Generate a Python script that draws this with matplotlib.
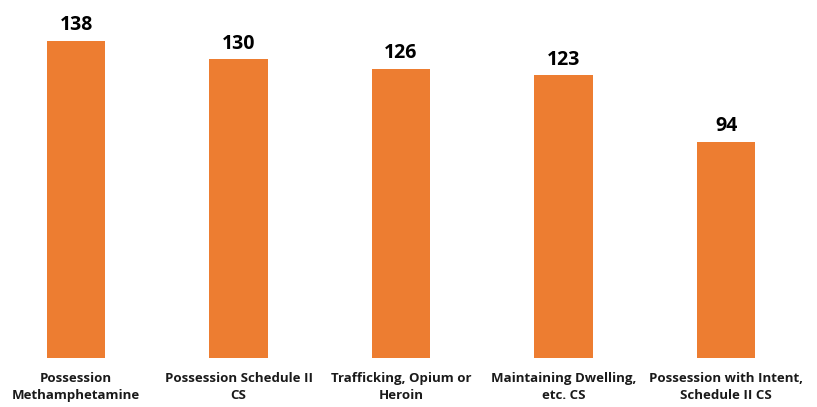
import matplotlib
matplotlib.use('Agg')
import matplotlib.pyplot as plt

# --- Data ---
categories = [
    'Possession\nMethamphetamine',
    'Possession Schedule II\nCS',
    'Trafficking, Opium or\nHeroin',
    'Maintaining Dwelling,\netc. CS',
    'Possession with Intent,\nSchedule II CS',
]
values = [138, 130, 126, 123, 94]

BAR = '#ED7D31'
plt.rcParams['font.family'] = ['Open Sans', 'DejaVu Sans']

W, H = 817, 407
fig = plt.figure(figsize=(W / 100, H / 100), dpi=100, facecolor='white')

# axes spans full width; baseline 49px from bottom
ax = fig.add_axes([0, 49 / H, 1, 344.6 / H])
x = list(range(len(values)))
bars = ax.bar(x, values, width=0.357, color=BAR, zorder=2)

ax.set_xlim(-76 / 162.5, (W - 76) / 162.5)
ax.set_ylim(0, 150)

ax.bar_label(bars, labels=[str(v) for v in values], padding=4,
             fontsize=14, fontweight='bold', color='black')

ax.set_xticks(x)
ax.set_xticklabels(categories, fontsize=9.5, fontweight='bold',
                   color='#1a1a1a', linespacing=1.4)
ax.tick_params(axis='x', length=0, pad=10)
ax.set_yticks([])
for s in ax.spines.values():
    s.set_visible(False)

fig.savefig('out.png', dpi=100, facecolor='white')
